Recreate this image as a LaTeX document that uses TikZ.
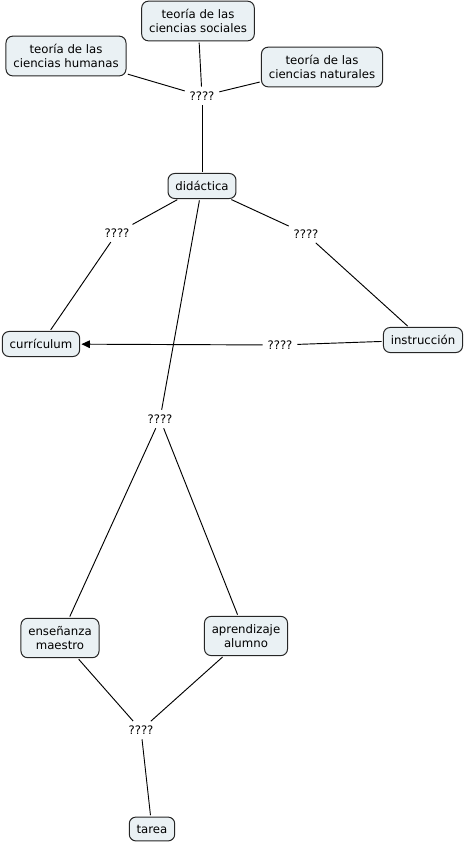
\documentclass[tikz,border=0pt]{standalone}
\usepackage{fontspec}
\setmainfont{DejaVu Sans}
\usetikzlibrary{arrows.meta}
\definecolor{cpt}{RGB}{234,241,244}

\begin{document}
\begin{tikzpicture}[x=0.75pt,y=-0.75pt,font=\fontsize{8.8}{11}\selectfont,>={Triangle[length=2.2mm,width=2mm]},
  cncs/.style={draw=black!85,line width=0.75pt,rounded corners=5pt,fill=cpt,align=center,inner xsep=5.5pt,inner ysep=5.8pt},
  lnks/.style={inner sep=2.5pt,fill=white},
  lns/.style={line width=0.7pt,shorten <=1pt,shorten >=1pt}]
  \useasboundingbox (0,0) rectangle (467,844);
  % concepts
  \node[cncs] (soc) at (198,21) {teoría de las\\ciencias sociales};
  \node[cncs] (hum) at (66,56) {teoría de las\\ciencias humanas};
  \node[cncs] (nat) at (322,67) {teoría de las\\ciencias naturales};
  \node[cncs] (did) at (202,186) {didáctica};
  \node[cncs] (cur) at (41,344) {currículum};
  \node[cncs] (ins) at (423,340) {instrucción};
  \node[cncs] (ens) at (60,638) {enseñanza\\maestro};
  \node[cncs] (apr) at (246,636) {aprendizaje\\alumno};
  \node[cncs] (tar) at (152,829) {tarea};
  % links
  \node[lnks] (l1) at (202,96) {????};
  \node[lnks] (l2) at (117,233) {????};
  \node[lnks] (l3) at (306,234) {????};
  \node[lnks] (l4) at (280,345) {????};
  \node[lnks] (l5) at (160,419) {????};
  \node[lnks] (l6) at (141,730) {????};
  \draw[lns] (hum)--(l1); \draw[lns] (soc)--(l1); \draw[lns] (nat)--(l1); \draw[lns] (l1)--(did);
  \draw[lns] (did)--(l2); \draw[lns] (l2)--(cur);
  \draw[lns] (did)--(l3); \draw[lns] (l3)--(ins);
  \draw[lns] (ins)--(l4); \draw[lns,->] (l4)--(cur);
  \draw[lns] (did)--(l5);
  \draw[lns] (l5)--(ens); \draw[lns] (l5)--(apr);
  \draw[lns] (ens)--(l6); \draw[lns] (apr)--(l6); \draw[lns] (l6)--(tar);
\end{tikzpicture}
\end{document}
